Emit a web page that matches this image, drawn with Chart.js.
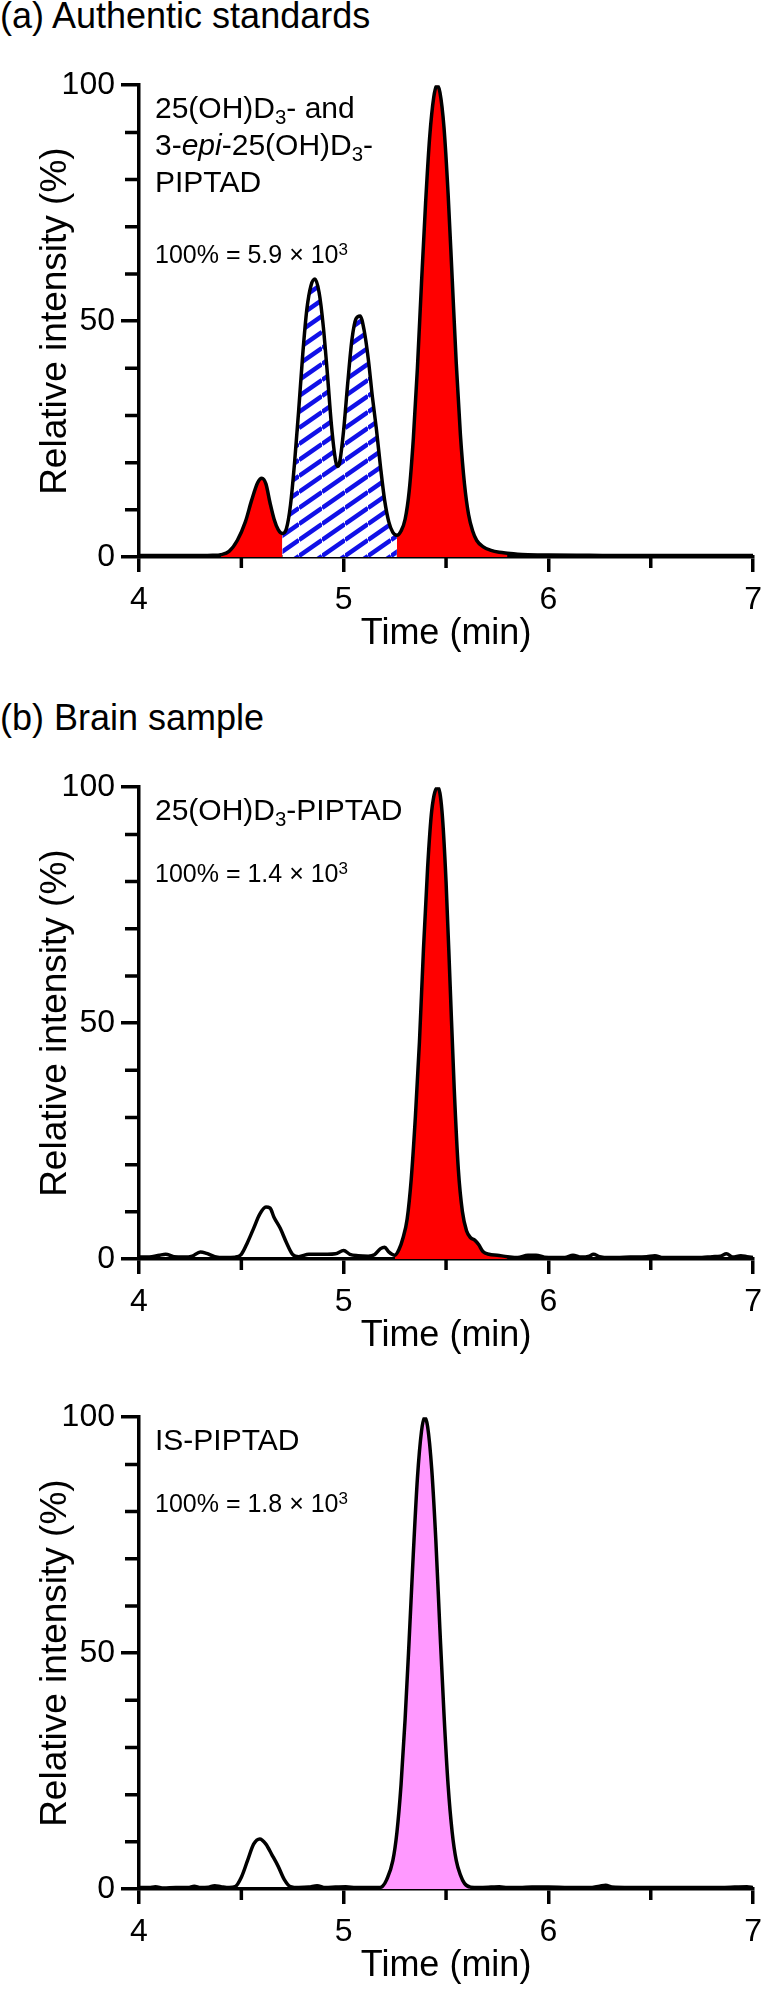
<!DOCTYPE html>
<html>
<head>
<meta charset="utf-8">
<script src="https://cdn.jsdelivr.net/npm/chart.js@4.4.0/dist/chart.umd.min.js"></script>
<style>
    body { margin: 0; background: #fff; }
    #page { position: relative; width: 771px; height: 1992px; overflow: hidden; font-family: "Liberation Sans", Arial, sans-serif; color: #000; }
    canvas { position: absolute; left: 0; }
    .panel-title { position: absolute; left: 0; font-size: 36px; line-height: 36px; white-space: nowrap; }
    .label { position: absolute; left: 155px; font-size: 30px; line-height: 37px; white-space: nowrap; }
    .scale-note { position: absolute; left: 155px; font-size: 25px; line-height: 25px; white-space: nowrap; }
    .sb { font-size: 0.68em; vertical-align: -0.28em; line-height: 0; }
    .sp { font-size: 0.68em; vertical-align: 0.5em; line-height: 0; }
</style>
</head>
<body>
<div id="page">
    <div class="panel-title" style="top:-2px">(a) Authentic standards</div>
    <canvas id="chart-a" width="771" height="600" style="top:60px"></canvas>
    <div class="label" style="top:89px">25(OH)D<span class="sb">3</span>- and<br>3-<i>epi</i>-25(OH)D<span class="sb">3</span>-<br>PIPTAD</div>
    <div class="scale-note" style="top:242px">100% = 5.9 × 10<span class="sp">3</span></div>

    <div class="panel-title" style="top:700px">(b) Brain sample</div>
    <canvas id="chart-b" width="771" height="600" style="top:762px"></canvas>
    <div class="label" style="top:791px">25(OH)D<span class="sb">3</span>-PIPTAD</div>
    <div class="scale-note" style="top:861px">100% = 1.4 × 10<span class="sp">3</span></div>

    <canvas id="chart-c" width="771" height="600" style="top:1392px"></canvas>
    <div class="label" style="top:1421px">IS-PIPTAD</div>
    <div class="scale-note" style="top:1491px">100% = 1.8 × 10<span class="sp">3</span></div>
</div>

<script>
// ---------------------------------------------------------------------------
// data (time in min, intensity in %)
// ---------------------------------------------------------------------------

const timeA = [4.00, 4.10, 4.20, 4.30, 4.36, 4.40, 4.44, 4.48, 4.52, 4.55, 4.58, 4.60, 4.62, 4.64, 4.66,
    4.68, 4.70, 4.72, 4.74, 4.76, 4.78, 4.80, 4.82, 4.84, 4.86, 4.88, 4.90, 4.92, 4.94, 4.96, 4.97, 4.98,
    5.00, 5.02, 5.04, 5.06, 5.08, 5.10, 5.12, 5.14, 5.16, 5.18, 5.20, 5.22, 5.24, 5.26, 5.28, 5.30, 5.32,
    5.34, 5.36, 5.38, 5.40, 5.42, 5.44, 5.455, 5.47, 5.49, 5.51, 5.53, 5.55, 5.57, 5.59, 5.61, 5.63, 5.65,
    5.68, 5.72, 5.76, 5.80, 5.85, 5.90, 6.00, 6.20, 6.40, 6.60, 6.80, 7.00];
const intensityA = [0.3, 0.3, 0.3, 0.3, 0.35, 0.5, 1.2, 3.5, 7.5, 12, 15.8, 16.7, 15.5, 11.5, 8,
    5.8, 5.0, 6.0, 11, 20, 31, 43, 52.5, 57.5, 58.9, 56, 49, 39, 28, 20.5, 19.2, 20,
    27, 37, 46, 50.5, 51.1, 48, 42, 34, 27, 19, 12, 7.5, 5.2, 4.6, 5.5, 8, 14,
    25, 40, 58, 75, 89, 97.5, 100, 98.5, 91, 77, 59, 41, 26, 15.5, 9, 5.5, 3.5,
    2.2, 1.4, 1.0, 0.8, 0.6, 0.5, 0.4, 0.35, 0.3, 0.3, 0.3, 0.3];

const timeB = [4.00, 4.05, 4.10, 4.13, 4.17, 4.22, 4.26, 4.30, 4.33, 4.37, 4.42, 4.47, 4.50, 4.53, 4.56,
    4.59, 4.62, 4.64, 4.66, 4.69, 4.72, 4.75, 4.78, 4.83, 4.87, 4.92, 4.96, 5.00, 5.03, 5.07,
    5.12, 5.15, 5.18, 5.20, 5.22, 5.25, 5.27, 5.29, 5.31, 5.33, 5.35, 5.37, 5.39, 5.41, 5.43,
    5.46, 5.48, 5.50, 5.52, 5.54, 5.56, 5.58, 5.60, 5.62, 5.64, 5.66, 5.68, 5.71, 5.75, 5.80,
    5.85, 5.90, 5.94, 5.98, 6.03, 6.08, 6.12, 6.16, 6.20, 6.22, 6.25, 6.30, 6.40, 6.48, 6.52,
    6.56, 6.65, 6.75, 6.80, 6.84, 6.87, 6.90, 6.94, 6.97, 7.00];
const intensityB = [0.4, 0.4, 0.8, 1.0, 0.5, 0.4, 0.6, 1.5, 1.2, 0.5, 0.3, 0.4, 1.0, 3.5, 6.5,
    9.5, 11.0, 10.8, 8.8, 6.5, 3.5, 1.0, 0.5, 1.0, 1.0, 1.0, 1.1, 1.8, 1.0, 0.7,
    0.6, 0.9, 2.2, 2.5, 1.5, 0.8, 2.0, 4.5, 8.5, 17, 30, 46, 66, 83, 95,
    100, 95, 80, 58, 36, 19, 10, 6, 4.5, 4.0, 3.0, 1.6, 1.0, 0.8, 0.5,
    0.3, 0.8, 0.8, 0.4, 0.3, 0.3, 0.8, 0.4, 0.6, 1.0, 0.5, 0.3, 0.4, 0.5, 0.7,
    0.3, 0.3, 0.3, 0.5, 0.6, 1.1, 0.4, 0.7, 0.5, 0.3];

const timeC = [4.00, 4.05, 4.08, 4.12, 4.18, 4.24, 4.27, 4.30, 4.34, 4.37, 4.40, 4.44, 4.47, 4.50, 4.53,
    4.56, 4.59, 4.62, 4.65, 4.68, 4.71, 4.74, 4.78, 4.83, 4.87, 4.91, 4.96, 5.01, 5.06, 5.12,
    5.17, 5.19, 5.21, 5.24, 5.26, 5.28, 5.30, 5.32, 5.34, 5.36, 5.38, 5.395, 5.41, 5.43, 5.45,
    5.47, 5.49, 5.51, 5.53, 5.55, 5.57, 5.59, 5.62, 5.66, 5.72, 5.76, 5.80, 5.86, 5.92, 6.00,
    6.10, 6.20, 6.25, 6.28, 6.31, 6.40, 6.55, 6.70, 6.85, 6.97, 7.00];
const intensityC = [0.3, 0.3, 0.5, 0.2, 0.3, 0.3, 0.6, 0.3, 0.4, 0.7, 0.5, 0.3, 0.5, 2.5, 6.0,
    9.5, 10.6, 9.5, 7.2, 4.8, 2.0, 0.5, 0.3, 0.4, 0.7, 0.3, 0.4, 0.5, 0.3, 0.3,
    0.3, 0.6, 2.0, 6.0, 12, 22, 36, 53, 71, 87, 97, 100, 98, 89, 74,
    55, 37, 22, 12, 6, 3, 1.2, 0.4, 0.3, 0.4, 0.5, 0.3, 0.3, 0.4, 0.4,
    0.3, 0.3, 0.6, 0.8, 0.4, 0.3, 0.3, 0.3, 0.3, 0.5, 0.3];

// shaded peak windows (min)
const redRangesA = [[4.40, 4.70], [5.26, 5.80]];
const hatchRangesA = [[4.70, 5.26]];
const redRangesB = [[5.25, 5.80]];
const pinkRangesC = [[5.17, 5.62]];

// axis ticks
const xMajorTicks = [4, 5, 6, 7];
const xMinorTicks = [4.5, 5.5, 6.5];
const yMajorTicks = [0, 50, 100];
const yMinorTicks = [10, 20, 30, 40, 60, 70, 80, 90];

// ---------------------------------------------------------------------------

Chart.defaults.font.family = '"Liberation Sans", Arial, sans-serif';
Chart.defaults.color = '#000';

const RED = '#ff0000';
const PINK = '#ff99ff';
const AXIS_W = 3.5;

function hatchPattern() {
    const w = 23, h = 16;
    const c = document.createElement('canvas');
    c.width = w;
    c.height = h;
    const g = c.getContext('2d');
    g.fillStyle = '#fff';
    g.fillRect(0, 0, w, h);
    g.strokeStyle = '#1010e8';
    g.lineWidth = 4.5;
    for (let k = -1; k <= 1; k++) {
        g.beginPath();
        g.moveTo(0, h + k * h);
        g.lineTo(w, k * h);
        g.stroke();
    }
    return g.createPattern(c, 'repeat');
}

// short minor ticks, placed with the chart's own scales
const minorTicks = {
    id: 'minorTicks',
    afterDraw(chart) {
        const {ctx, chartArea, scales: {x, y}} = chart;
        ctx.save();
        ctx.strokeStyle = '#000';
        ctx.lineWidth = AXIS_W;
        ctx.beginPath();
        yMinorTicks.forEach(v => {
            const py = y.getPixelForValue(v);
            ctx.moveTo(chartArea.left - 14, py);
            ctx.lineTo(chartArea.left, py);
        });
        xMinorTicks.forEach(v => {
            const px = x.getPixelForValue(v);
            ctx.moveTo(px, chartArea.bottom);
            ctx.lineTo(px, chartArea.bottom + 11);
        });
        ctx.stroke();
        ctx.restore();
    }
};

function toPoints(times, values) {
    return times.map((t, i) => ({x: t, y: values[i]}));
}

function fillSets(points, ranges, color) {
    return ranges.map(([a, b]) => ({
        data: points.filter(p => p.x >= a - 1e-9 && p.x <= b + 1e-9),
        borderWidth: 0,
        borderColor: 'rgba(0,0,0,0)',
        backgroundColor: color,
        fill: 'origin',
        pointRadius: 0,
        cubicInterpolationMode: 'monotone',
        order: 1
    }));
}

function drawChromatogram(id, times, values, fills) {
    const points = toPoints(times, values);
    const datasets = [{
        data: points,
        borderColor: '#000',
        borderWidth: 3.5,
        fill: false,
        pointRadius: 0,
        cubicInterpolationMode: 'monotone',
        order: 0
    }];
    fills.forEach(f => datasets.push(...fillSets(points, f.ranges, f.color)));

    new Chart(document.getElementById(id), {
        type: 'line',
        data: {datasets: datasets},
        plugins: [minorTicks],
        options: {
            responsive: false,
            animation: false,
            layout: {padding: {top: 22, right: 12, left: 0, bottom: 0}},
            plugins: {legend: {display: false}, tooltip: {enabled: false}},
            scales: {
                x: {
                    type: 'linear',
                    min: 4,
                    max: 7,
                    afterBuildTicks: s => { s.ticks = xMajorTicks.map(v => ({value: v})); },
                    afterFit: s => { s.height = 103; },
                    grid: {drawOnChartArea: false, color: '#000', lineWidth: AXIS_W, tickLength: 15},
                    border: {display: true, color: '#000', width: AXIS_W},
                    ticks: {font: {size: 32}, padding: 9, maxRotation: 0, autoSkip: false},
                    title: {display: true, text: 'Time (min)', font: {size: 36}, padding: {top: 0, bottom: 4}}
                },
                y: {
                    min: 0,
                    max: 100,
                    afterBuildTicks: s => { s.ticks = yMajorTicks.map(v => ({value: v})); },
                    afterFit: s => { s.width = 139; },
                    grid: {drawOnChartArea: false, color: '#000', lineWidth: AXIS_W, tickLength: 18},
                    border: {display: true, color: '#000', width: AXIS_W},
                    ticks: {font: {size: 32}, padding: 6},
                    title: {display: true, text: 'Relative intensity (%)', font: {size: 37}, padding: {top: 34, bottom: 0}}
                }
            }
        }
    });
}

drawChromatogram('chart-a', timeA, intensityA, [
    {ranges: redRangesA, color: RED},
    {ranges: hatchRangesA, color: hatchPattern()}
]);
drawChromatogram('chart-b', timeB, intensityB, [
    {ranges: redRangesB, color: RED}
]);
drawChromatogram('chart-c', timeC, intensityC, [
    {ranges: pinkRangesC, color: PINK}
]);
</script>
</body>
</html>
